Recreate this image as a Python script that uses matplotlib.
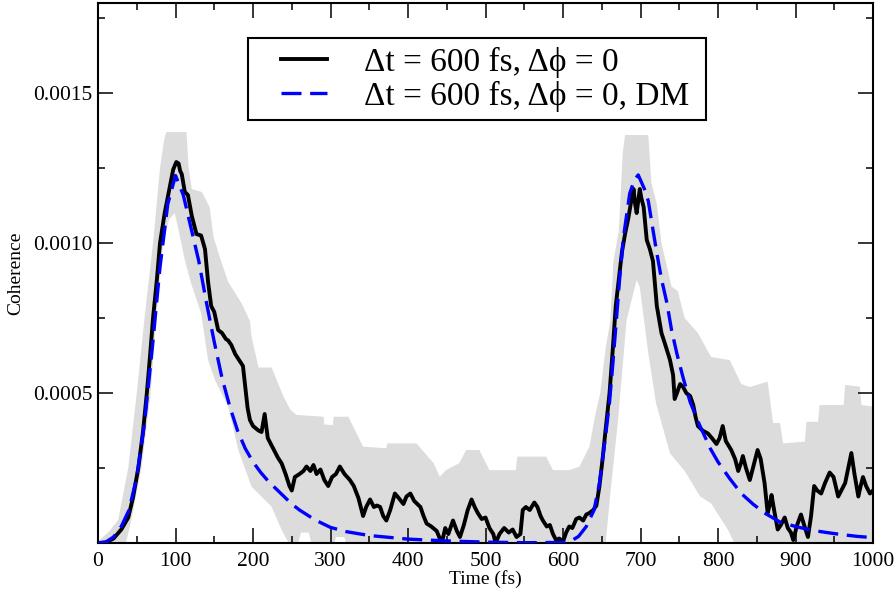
import matplotlib
matplotlib.use("Agg")
import matplotlib.pyplot as plt
import numpy as np
from matplotlib.ticker import MultipleLocator
from matplotlib.legend_handler import HandlerLine2D

plt.rcParams['font.family'] = ['Liberation Serif', 'DejaVu Serif']

# values, coherence in units of 1e-4
t_black = [0, 10, 20, 30, 39, 45, 52, 58, 63, 67, 71, 76, 80, 86, 92, 97, 101, 104, 106, 108,
           112, 116, 121, 127, 133, 138, 142, 146, 150, 155, 160, 165, 168, 172, 177, 182, 187, 190, 193, 196,
           200, 207, 211, 215, 219, 225, 232, 237, 242, 247, 250, 254, 260, 265, 269, 274, 278, 282, 287, 292,
           297, 302, 307, 312, 318, 325, 330, 336, 342, 346, 351, 356, 360, 364, 368, 372, 377, 383, 388, 394,
           398, 403, 408, 412, 416, 420, 424, 430, 437, 441, 444, 448, 452, 458, 463, 467, 472, 477, 482, 486,
           490, 495, 500, 505, 510, 513, 518, 524, 530, 535, 540, 545, 548, 552, 557, 563, 567, 571, 574, 579,
           583, 587, 591, 595, 600, 604, 608, 612, 617, 621, 626, 630, 634, 639, 643, 647, 651, 655, 660, 664,
           668, 672, 676, 680, 684, 688, 691, 693, 695, 697, 699, 701, 704, 708, 712, 716, 719, 721, 727, 732,
           738, 742, 744, 747, 751, 755, 759, 764, 768, 771, 774, 780, 787, 792, 798, 802, 806, 810, 817, 822,
           826, 830, 832, 836, 841, 846, 851, 855, 860, 864, 867, 869, 873, 877, 881, 886, 890, 894, 897, 902,
           907, 911, 916, 920, 924, 928, 933, 938, 944, 949, 955, 960, 964, 968, 972, 976, 981, 984, 987, 991,
           996, 1000]
v_black = [0, 0.02, 0.15, 0.45, 0.85, 1.5, 2.5, 3.7, 5.0, 6.2, 7.5, 8.8, 10.0, 11.0, 11.8, 12.45, 12.7, 12.65, 12.4, 12.3,
           11.7, 11.6, 10.9, 10.3, 10.25, 9.8, 8.7, 7.9, 7.7, 7.1, 7.0, 6.8, 6.75, 6.6, 6.3, 6.1, 5.9, 5.2, 4.5, 4.1,
           3.9, 3.75, 3.7, 4.3, 3.5, 3.2, 2.85, 2.65, 2.3, 1.9, 1.75, 2.2, 2.3, 2.4, 2.55, 2.4, 2.6, 2.3, 2.45, 2.1,
           1.9, 2.2, 2.3, 2.55, 2.3, 2.1, 1.9, 1.5, 0.9, 1.2, 1.45, 1.2, 1.25, 1.2, 0.9, 0.75, 1.1, 1.65, 1.5, 1.3,
           1.55, 1.65, 1.4, 1.3, 1.2, 0.9, 0.65, 0.55, 0.4, 0.15, 0.05, 0.5, 0.3, 0.75, 0.4, 0.2, 0.6, 1.1, 1.45, 1.2,
           1.0, 0.8, 0.85, 0.5, 0.3, 0.0, 0.3, 0.5, 0.35, 0.45, 0.2, 0.3, 1.1, 1.2, 1.1, 1.35, 1.2, 0.9, 0.75, 0.55,
           0.6, 0.3, 0.1, 0.15, 0.05, 0.35, 0.55, 0.5, 0.8, 0.85, 0.75, 0.95, 1.0, 1.1, 1.25, 1.9, 2.8, 3.8, 5.0, 6.4,
           7.9, 8.8, 9.7, 10.3, 10.8, 11.4, 11.8, 11.3, 11.0, 11.4, 11.8, 11.5, 11.2, 10.1, 9.8, 9.4, 8.5, 7.9, 7.0, 6.6,
           6.1, 5.6, 4.8, 5.0, 5.3, 5.2, 5.0, 4.9, 4.6, 4.2, 3.9, 3.75, 3.65, 3.5, 3.3, 3.5, 3.9, 3.4, 3.1, 2.8,
           2.4, 2.7, 2.9, 2.5, 2.1, 2.6, 3.1, 2.8, 2.0, 1.0, 1.3, 1.6, 1.0, 0.45, 0.6, 0.85, 0.5, 0.35, 0.1, 0.6,
           0.95, 0.6, 0.2, 0.9, 1.9, 1.75, 1.65, 2.0, 2.35, 2.2, 1.55, 1.8, 2.0, 2.5, 3.0, 2.3, 1.55, 1.9, 2.2, 1.9,
           1.65, 1.75]

t_dm = [0, 10, 20, 30, 40, 50, 60, 70, 80, 90, 100, 110, 120, 130, 140, 150, 160, 170, 180, 190,
        200, 210, 220, 230, 240, 250, 260, 280, 300, 320, 350, 400, 450, 500, 550, 600, 610, 620, 630, 640,
        647, 655, 660, 664, 669, 673, 678, 686, 692, 697, 705, 710, 715, 721, 727, 734, 740, 747, 755, 764,
        775, 790, 800, 815, 830, 845, 860, 880, 900, 920, 940, 960, 980, 1000]
v_dm = [0, 0.03, 0.2, 0.55, 1.1, 2.2, 4.0, 6.5, 9.2, 11.3, 12.25, 11.6, 10.5, 9.4, 8.0, 6.7, 5.5, 4.55, 3.75, 3.15,
        2.7, 2.35, 2.05, 1.8, 1.55, 1.3, 1.1, 0.77, 0.52, 0.38, 0.25, 0.13, 0.07, 0.03, 0.01, 0.02, 0.06, 0.22, 0.55, 1.1,
        2.0, 3.6, 4.7, 5.9, 7.5, 8.8, 10.2, 11.65, 12.1, 12.27, 11.8, 11.4, 10.6, 9.66, 8.8, 8.0, 7.1, 6.3, 5.5, 4.7,
        4.0, 3.15, 2.7, 2.15, 1.65, 1.3, 1.0, 0.7, 0.55, 0.43, 0.35, 0.28, 0.22, 0.18]

t_upper = [0, 15, 26, 39, 50, 60, 71, 80, 85, 88, 114, 117, 121, 134, 144, 149, 160, 168, 185,
           196, 198, 207, 224, 239, 248, 256, 291, 292, 303, 304, 323, 342, 372, 373, 411, 433, 441, 449, 466,
           475, 492, 505, 539, 541, 578, 587, 608, 621, 634, 641, 648, 655, 661, 665, 672, 677, 680, 710, 714, 721,
           727, 740, 748, 757, 774, 791, 815, 830, 841, 864, 871, 880, 884, 912, 914, 929, 931, 962, 964, 983,
           985, 1000]
v_upper = [0.05, 0.4, 0.77, 2.5, 5.0, 7.5, 10.0, 12.5, 13.4, 13.7, 13.7, 12.5, 11.8, 11.7, 11.2, 10.2, 9.3, 8.7, 8.0,
           7.4, 6.9, 5.85, 5.85, 4.9, 4.45, 4.27, 4.21, 3.95, 3.93, 4.21, 4.21, 3.21, 3.16, 3.32, 3.32, 2.66, 2.21, 2.43, 2.66,
           3.1, 3.1, 2.43, 2.43, 2.88, 2.88, 2.43, 2.43, 2.54, 3.21, 4.2, 5.0, 6.5, 7.4, 9.4, 10.4, 13.0, 13.6, 13.6, 12.0, 11.3,
           10.0, 8.55, 8.4, 7.5, 7.0, 6.2, 6.1, 5.3, 5.2, 5.38, 4.0, 4.0, 3.32, 3.38, 4.04, 4.04, 4.6, 4.6, 5.27, 5.21,
           4.6, 4.55]

t_lower = [0, 36, 43, 56, 68, 75, 84, 92, 99, 103, 112, 120, 133, 142, 151, 168, 181, 198, 224,
           237, 246, 258, 262, 272, 275, 305, 307, 318, 320, 655, 662, 671, 682, 695, 699, 710, 720,
           738, 757, 777, 791, 813, 821, 1000]
v_lower = [0, 0, 0.77, 2.5, 5.0, 7.5, 10.0, 10.8, 11.0, 10.54, 9.43, 8.66, 7.66, 6.1, 5.43, 4.55, 3.1, 1.88, 1.21,
           0.43, 0, 0, 0.35, 0.35, 0, 0, 0.2, 0.2, 0, 0, 1.9, 4.1, 7.43, 8.77, 8.54, 6.32, 4.66,
           2.99, 2.4, 1.55, 1.32, 0.43, 0, 0]

scale = 1e-4
labels = [u'\u0394t = 600 fs, \u0394\u03d5 = 0', u'\u0394t = 600 fs, \u0394\u03d5 = 0, DM ']


class RightLineHandler(HandlerLine2D):
    # legend line drawn only over the right part of the handle box
    def get_xdata(self, legend, xdescent, ydescent, width, height, fontsize):
        xdata = np.array([-xdescent + 0.35 * width, -xdescent + width])
        return xdata, xdata


fig = plt.figure(figsize=(8.96, 5.96), dpi=100)
ax = fig.add_axes([0.1094, 0.0889, 0.865, 0.906])

band_t = np.concatenate([t_upper, t_lower[::-1]])
band_v = np.concatenate([v_upper, v_lower[::-1]]) * scale
ax.fill(band_t, band_v, color='#dcdcdc', lw=0, zorder=1)

l1, = ax.plot(t_black, np.array(v_black) * scale, color='black', lw=2.8, label=labels[0], zorder=3)
l2, = ax.plot(t_dm, np.array(v_dm) * scale, color='#0000ff', lw=2.4, dashes=(6.0, 2.6), label=labels[1], zorder=4)

ax.set_xlim(0, 1000)
ax.set_ylim(0, 0.0018)
ax.xaxis.set_major_locator(MultipleLocator(100))
ax.xaxis.set_minor_locator(MultipleLocator(50))
ax.yaxis.set_minor_locator(MultipleLocator(0.00025))
ax.set_yticks([0.0005, 0.0010, 0.0015])
ax.set_yticklabels(['0.0005', '0.0010', '0.0015'])
ax.tick_params(which='both', direction='in', top=True, right=True, width=1.1)
ax.tick_params(which='major', length=10.5, labelsize=15.5)
ax.tick_params(axis='x', which='major', pad=6.5)
ax.tick_params(axis='y', which='major', pad=4)
ax.tick_params(which='minor', length=5.3)
for s in ax.spines.values():
    s.set_linewidth(1.5)

ax.set_xlabel('Time (fs)', fontsize=14, labelpad=-1)
ax.set_ylabel('Coherence', fontsize=14, labelpad=6)

leg = ax.legend(handles=[l1, l2], loc='upper left', bbox_to_anchor=(0.1935, 0.935), borderaxespad=0,
                fontsize=24, handlelength=2.13, handletextpad=1.1, labelspacing=0.1,
                borderpad=0.25, fancybox=False, framealpha=1, edgecolor='black',
                handler_map={l1: RightLineHandler(), l2: RightLineHandler()})
leg.get_frame().set_linewidth(1.5)

fig.savefig('out.png', dpi=100)
